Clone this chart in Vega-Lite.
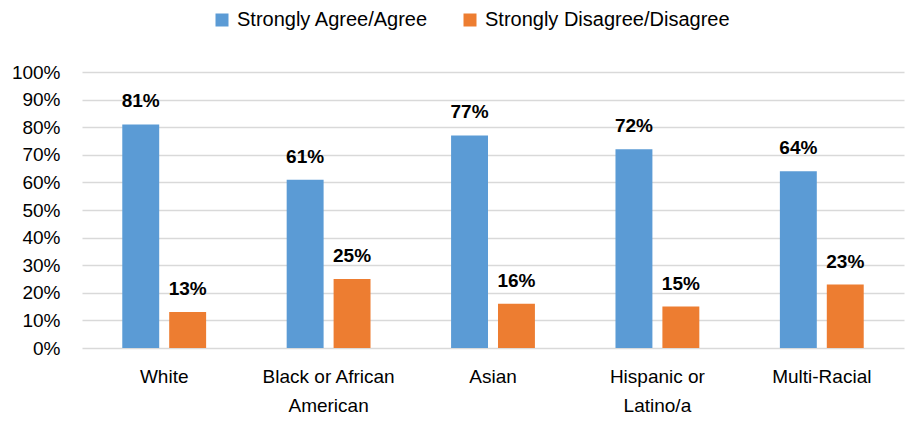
{
  "$schema": "https://vega.github.io/schema/vega-lite/v6.json",
  "width": 822,
  "height": 276,
  "autosize": {"type": "none"},
  "padding": {"left": 82, "top": 72, "right": 5, "bottom": 81},
  "background": "white",
  "config": {"view": {"stroke": null}, "font": "Liberation Sans"},
  "data": {
    "values": [
      {"group": "White", "response": "Strongly Agree/Agree", "pct": 0.81},
      {"group": "White", "response": "Strongly Disagree/Disagree", "pct": 0.13},
      {"group": "Black or African American", "response": "Strongly Agree/Agree", "pct": 0.61},
      {"group": "Black or African American", "response": "Strongly Disagree/Disagree", "pct": 0.25},
      {"group": "Asian", "response": "Strongly Agree/Agree", "pct": 0.77},
      {"group": "Asian", "response": "Strongly Disagree/Disagree", "pct": 0.16},
      {"group": "Hispanic or Latino/a", "response": "Strongly Agree/Agree", "pct": 0.72},
      {"group": "Hispanic or Latino/a", "response": "Strongly Disagree/Disagree", "pct": 0.15},
      {"group": "Multi-Racial", "response": "Strongly Agree/Agree", "pct": 0.64},
      {"group": "Multi-Racial", "response": "Strongly Disagree/Disagree", "pct": 0.23}
    ]
  },
  "encoding": {
    "x": {
      "field": "group",
      "type": "nominal",
      "sort": null,
      "scale": {"paddingInner": 0.49, "paddingOuter": 0.245},
      "axis": {
        "title": null,
        "domain": false,
        "ticks": false,
        "labelAngle": 0,
        "labelPadding": 19,
        "labelFontSize": 19,
        "labelColor": "#000000",
        "labelLineHeight": 29,
        "labelLimit": 300,
        "labelExpr": "datum.label == 'Black or African American' ? ['Black or African', 'American'] : datum.label == 'Hispanic or Latino/a' ? ['Hispanic or', 'Latino/a'] : datum.label"
      }
    },
    "xOffset": {
      "field": "response",
      "type": "nominal",
      "sort": null,
      "scale": {"paddingInner": 0.213, "paddingOuter": 0}
    },
    "y": {
      "field": "pct",
      "type": "quantitative",
      "scale": {"domain": [0, 1]},
      "axis": {
        "title": null,
        "values": [0, 0.1, 0.2, 0.3, 0.4, 0.5, 0.6, 0.7, 0.8, 0.9, 1],
        "format": ".0%",
        "domain": false,
        "ticks": false,
        "labelPadding": 22,
        "labelFontSize": 19,
        "labelColor": "#000000",
        "gridColor": "#D9D9D9",
        "gridWidth": 1.5
      }
    }
  },
  "layer": [
    {
      "mark": {"type": "bar"},
      "encoding": {
        "color": {
          "field": "response",
          "type": "nominal",
          "sort": null,
          "scale": {"range": ["#5B9BD5", "#ED7D31"]},
          "legend": {
            "title": null,
            "orient": "none",
            "direction": "horizontal",
            "legendX": 130,
            "legendY": -62,
            "symbolType": "square",
            "symbolSize": 169,
            "symbolStrokeWidth": 0,
            "labelFontSize": 20,
            "labelColor": "#000000",
            "labelLimit": 400,
            "labelOffset": 5,
            "columnPadding": 31
          }
        }
      }
    },
    {
      "mark": {"type": "text", "dy": -17, "baseline": "alphabetic", "fontWeight": "bold", "fontSize": 19, "color": "#000000"},
      "encoding": {
        "text": {"field": "pct", "type": "quantitative", "format": ".0%"}
      }
    }
  ]
}
